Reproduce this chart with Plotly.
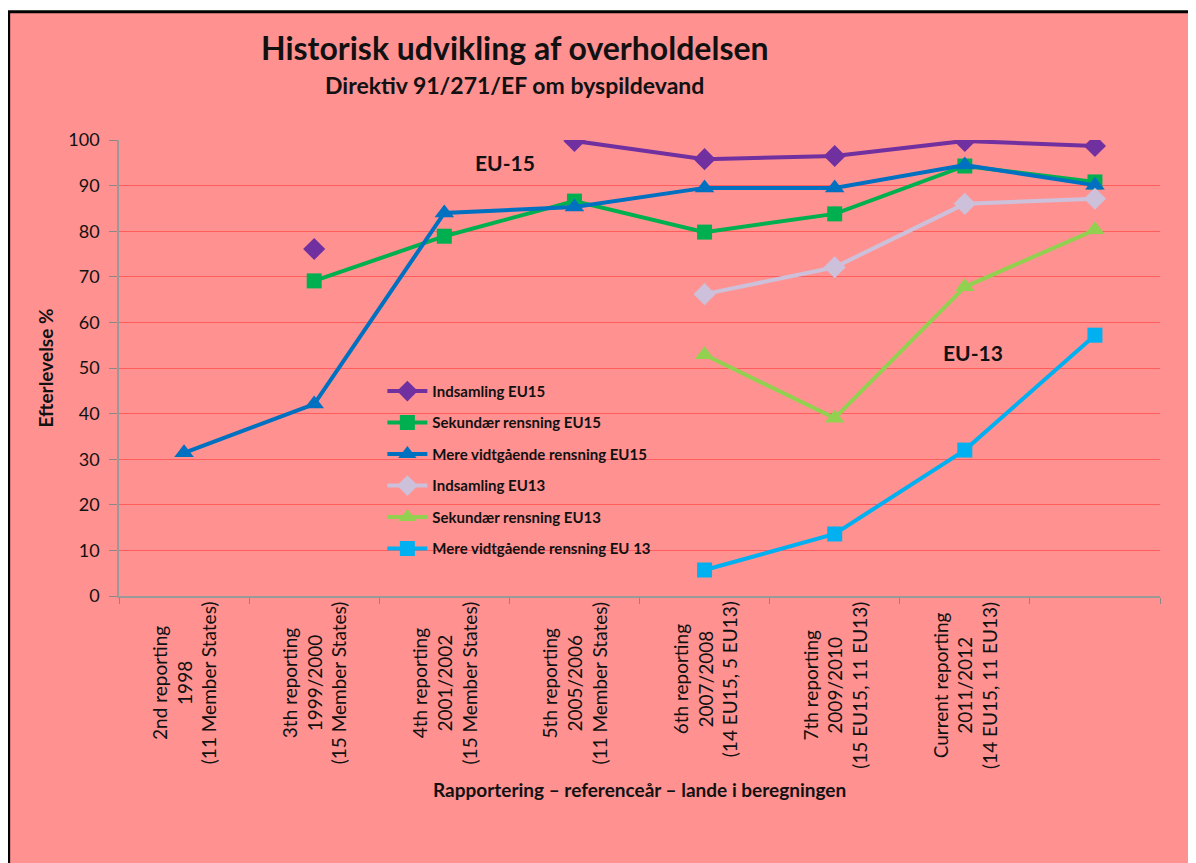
import plotly.graph_objects as go

# reporting rounds (x categories); the last round has no label
kategorier = ["r2", "r3", "r4", "r5", "r6", "r7", "r8", "r9"]
etiketter = [
    "2nd reporting<br>1998<br>(11 Member States)",
    "3th reporting<br>1999/2000<br>(15 Member States)",
    "4th reporting<br>2001/2002<br>(15 Member States)",
    "5th reporting<br>2005/2006<br>(11 Member States)",
    "6th reporting<br>2007/2008<br>(14 EU15, 5 EU13)",
    "7th reporting<br>2009/2010<br>(15 EU15, 11 EU13)",
    "Current reporting<br>2011/2012<br>(14 EU15, 11 EU13)",
    "",
]

indsamling_eu15 = [None, 76.1, None, 99.8, 95.8, 96.5, 99.8, 98.7]
sekundaer_eu15 = [None, 69.1, 78.9, 86.6, 79.8, 83.8, 94.3, 90.8]
mere_eu15 = [31.4, 42.1, 84.0, 85.3, 89.5, 89.5, 94.5, 90.1]
indsamling_eu13 = [None, None, None, None, 66.2, 72.1, 86.0, 87.1]
sekundaer_eu13 = [None, None, None, None, 52.9, 39.0, 67.8, 80.3]
mere_eu13 = [None, None, None, None, 5.7, 13.6, 32.0, 57.2]

serier = [
    ("Indsamling EU15", indsamling_eu15, "#7030A0", "diamond", 17),
    ("Sekundær rensning EU15", sekundaer_eu15, "#00B050", "square", 15),
    ("Mere vidtgående rensning EU15", mere_eu15, "#0070C0", "triangle-up", 17),
    ("Indsamling EU13", indsamling_eu13, "#CCC0DA", "diamond", 17),
    ("Sekundær rensning EU13", sekundaer_eu13, "#92D050", "triangle-up", 17),
    ("Mere vidtgående rensning EU 13", mere_eu13, "#00B0F0", "square", 15),
]

FONT = "Lato, 'Open Sans', sans-serif"
PINK = "#FF9191"

fig = go.Figure()
for i, (navn, vaerdier, farve, symbol, str_) in enumerate(serier):
    fig.add_trace(go.Scatter(
        x=kategorier, y=vaerdier, name=navn, mode="lines+markers",
        connectgaps=False, legendgroup=str(i),
        line=dict(color=farve, width=4),
        marker=dict(color=farve, symbol=symbol, size=str_),
    ))

# rotated category labels, centred line by line like the original
for k, tekst in zip(kategorier, etiketter):
    if tekst:
        fig.add_annotation(x=k, y=-0.008, xref="x", yref="paper", text=tekst,
                           textangle=-90, showarrow=False, yanchor="top",
                           align="center", font=dict(size=19, color="#111"))

fig.add_annotation(x=0.38, y=1.2018, xref="paper", yref="paper",
                   yanchor="middle",
                   text="<b>Historisk udvikling af overholdelsen</b>",
                   showarrow=False, font=dict(size=32, color="#111"))
fig.add_annotation(x=0.38, y=1.1206, xref="paper", yref="paper",
                   yanchor="middle",
                   text="<b>Direktiv 91/271/EF om byspildevand</b>",
                   showarrow=False, font=dict(size=23, color="#111"))
fig.add_annotation(x=2.47, y=95, text="<b>EU-15</b>", showarrow=False,
                   font=dict(size=21, color="#111"))
fig.add_annotation(x=6.06, y=53.5, text="<b>EU-13</b>", showarrow=False,
                   font=dict(size=21, color="#111"))
fig.add_annotation(x=0.5, y=-0.425, xref="paper", yref="paper",
                   yanchor="middle",
                   text="<b>Rapportering – referenceår – lande i beregningen</b>",
                   showarrow=False, font=dict(size=19, color="#111"))

# pink chart area with the black frame on the left and top
fig.add_shape(type="rect", xref="paper", yref="paper", layer="below",
              x0=-0.106, x1=1.06, y0=-0.64, y1=1.281,
              fillcolor=PINK, line=dict(color="black", width=3))

fig.update_layout(
    width=1196, height=863,
    margin=dict(l=111, r=44, t=132, b=275),
    paper_bgcolor="white", plot_bgcolor="rgba(0,0,0,0)",
    font=dict(family=FONT, color="#111"),
    showlegend=True,
    legend=dict(x=0.253, y=0.485, xanchor="left", yanchor="top",
                bgcolor="rgba(0,0,0,0)", tracegroupgap=9,
                font=dict(size=15, color="#111", weight="bold"),
                itemwidth=40),
)
fig.update_xaxes(type="category", tickson="boundaries", ticks="outside",
                 ticklen=6, tickcolor="#888", showticklabels=False,
                 showline=True, linecolor="#999", linewidth=1.5,
                 showgrid=False, range=[-0.5, 7.5])
fig.update_yaxes(range=[0, 100], dtick=10, ticks="outside", ticklen=8,
                 tickcolor="#888", showline=True, linecolor="#999",
                 linewidth=1.5, gridcolor="#FF5C5C", gridwidth=1.2,
                 zeroline=False, tickfont=dict(size=18), ticklabelstandoff=6,
                 title=dict(text="<b>Efterlevelse %</b>", font=dict(size=19),
                            standoff=10))

fig.write_html("out.html")
